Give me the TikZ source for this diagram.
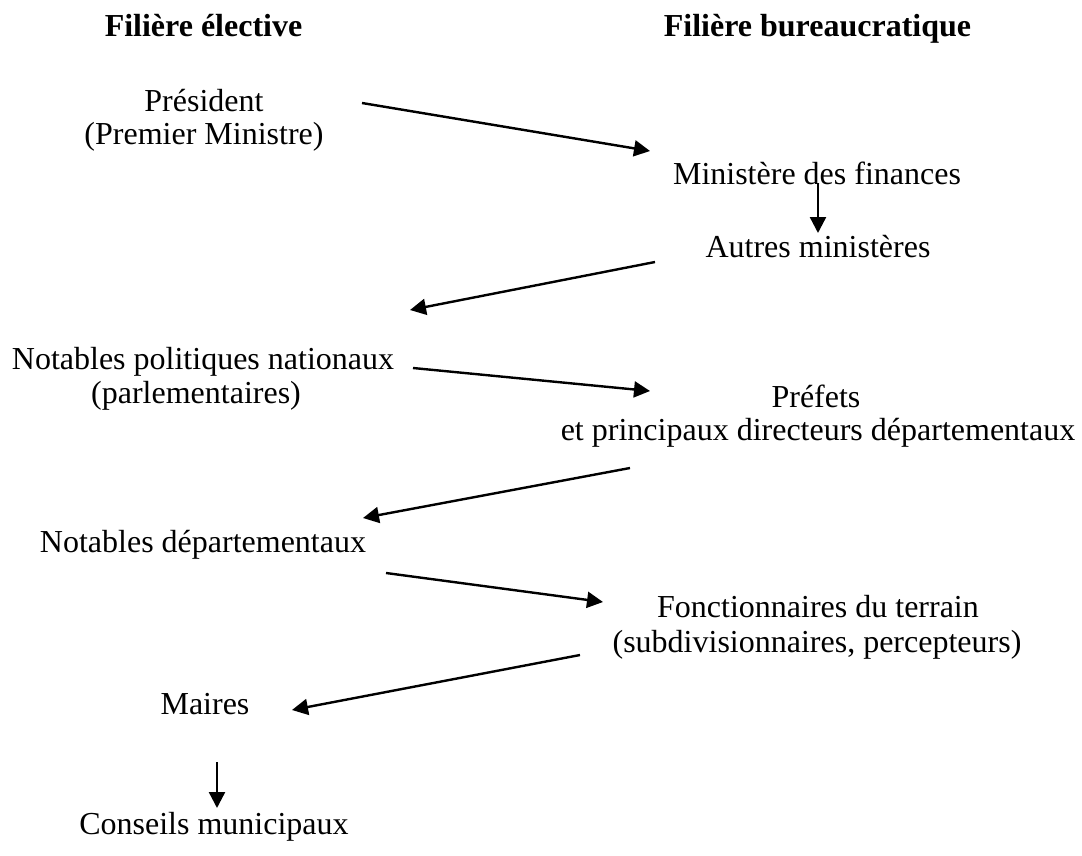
\documentclass[tikz,border=0pt]{standalone}
\usepackage{fontspec}
\setmainfont{Liberation Serif}
\usetikzlibrary{arrows.meta}
\begin{document}
\begin{tikzpicture}[x=1pt,y=-1pt,
  lbl/.style={inner sep=0pt,outer sep=0pt,anchor=base,font=\fontsize{32}{34}\selectfont},
  ttl/.style={lbl,font=\fontsize{32}{34}\selectfont\bfseries},
  arr/.style={line width=2.4pt,-{Triangle[length=16pt,width=16pt]}}]
\useasboundingbox (0,0) rectangle (1082,856);
% titles
\node[ttl] (t1) at (203.5,37) {Filière élective};
\node[ttl] (t2) at (817.5,37) {Filière bureaucratique};
% left column
\node[lbl] (pres1) at (204,112) {Président};
\node[lbl] (pres2) at (204,145) {(Premier Ministre)};
\node[lbl] (npn1) at (203,369) {Notables politiques nationaux};
\node[lbl] (npn2) at (196,403) {(parlementaires)};
\node[lbl] (nd) at (203,552) {Notables départementaux};
\node[lbl] (mai) at (205,714) {Maires};
\node[lbl] (cm) at (214,834) {Conseils municipaux};
% right column
\node[lbl] (mf) at (817,185) {Ministère des finances};
\node[lbl] (am) at (818,257) {Autres ministères};
\node[lbl] (pr1) at (816,407) {Préfets};
\node[lbl] (pr2) at (818,440) {et principaux directeurs départementaux};
\node[lbl] (fo1) at (818,617) {Fonctionnaires du terrain};
\node[lbl] (fo2) at (817,652) {(subdivisionnaires, percepteurs)};
% connector ends
\coordinate (a1s) at (362,103); \coordinate (a1e) at (650,151);
\coordinate (a2s) at (818,183); \coordinate (a2e) at (818,233);
\coordinate (a3s) at (655,262); \coordinate (a3e) at (410,310);
\coordinate (a4s) at (413,368); \coordinate (a4e) at (650,391);
\coordinate (a5s) at (630,468); \coordinate (a5e) at (363,518);
\coordinate (a6s) at (386,573); \coordinate (a6e) at (603,602);
\coordinate (a7s) at (580,655); \coordinate (a7e) at (292,710);
\coordinate (a8s) at (217,762); \coordinate (a8e) at (217,808);
\draw[arr] (a1s) -- (a1e);
\draw[arr] (a2s) -- (a2e);
\draw[arr] (a3s) -- (a3e);
\draw[arr] (a4s) -- (a4e);
\draw[arr] (a5s) -- (a5e);
\draw[arr] (a6s) -- (a6e);
\draw[arr] (a7s) -- (a7e);
\draw[arr] (a8s) -- (a8e);
\end{tikzpicture}
\end{document}
